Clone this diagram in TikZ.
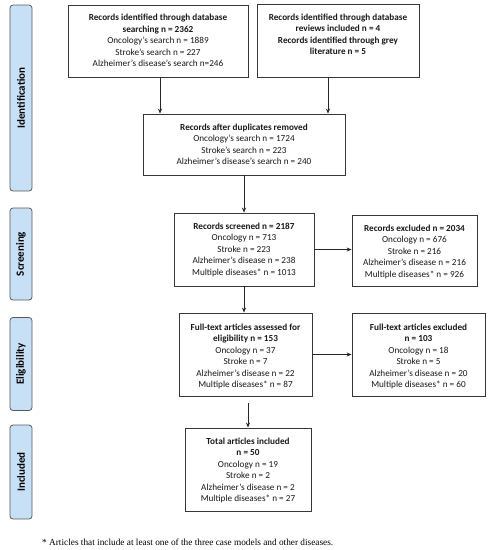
\documentclass[tikz,border=0pt]{standalone}
\usepackage{fontspec}
\setmainfont{Carlito}
\newfontfamily\footfont{Liberation Serif}
\usetikzlibrary{arrows.meta}
\definecolor{barfill}{RGB}{200,224,246}
\definecolor{barline}{RGB}{90,90,90}
\definecolor{boxline}{RGB}{55,55,55}
\begin{document}
\begin{tikzpicture}[x=1pt,y=-1pt,
  box/.style={draw=boxline, line width=0.8pt, inner sep=0pt},
  txt/.style={align=center, inner sep=0pt, anchor=north, text=black!90, font=\fontsize{9.2}{11.5}\selectfont},
  bar/.style={draw=barline, fill=barfill, line width=0.8pt, rounded corners=3pt, rotate=90, inner sep=0pt, minimum height=22pt, font=\fontsize{11}{12}\selectfont\bfseries},
  arr/.style={-{Stealth[length=5pt,width=4pt]}, line width=0.8pt, draw=black!85}]
\fill[white] (0,0) rectangle (490,550);
\useasboundingbox (0,0) rectangle (490,550);
% side bars
\node[bar, minimum width=186pt] (s1) at (21,98) {Identification};
\node[bar, minimum width=92pt] (s2) at (21,254) {Screening};
\node[bar, minimum width=93pt] (s3) at (21,364) {Eligibility};
\node[bar, minimum width=94pt] (s4) at (21,472) {Included};
% boxes
\node[box, minimum width=180pt, minimum height=72pt] (b1) at (158,41) {};
\node[box, minimum width=162pt, minimum height=73pt] (b2) at (338,40.5) {};
\node[box, minimum width=202pt, minimum height=61pt] (b3) at (244,144.5) {};
\node[box, minimum width=140pt, minimum height=73pt] (b4) at (244,249.5) {};
\node[box, minimum width=125pt, minimum height=71pt] (b5) at (414.5,250.5) {};
\node[box, minimum width=133pt, minimum height=83pt] (b6) at (245.5,354.5) {};
\node[box, minimum width=133pt, minimum height=83pt] (b7) at (418.5,354.5) {};
\node[box, minimum width=126pt, minimum height=83pt] (b8) at (248,469.5) {};
% texts
\node[txt] (t1) at ([yshift=-9.5pt]b1.north) {\textbf{Records identified through database}\\\textbf{searching n = 2362}\\Oncology’s search n = 1889\\Stroke’s search n = 227\\Alzheimer’s disease’s search n=246};
\node[txt] (t2) at ([yshift=-10pt]b2.north) {\textbf{Records identified through database}\\\textbf{reviews included n = 4}\\\textbf{Records identified through grey}\\\textbf{literature n = 5}};
\node[txt] (t3) at ([yshift=-10pt]b3.north) {\textbf{Records after duplicates removed}\\Oncology’s search n = 1724\\Stroke’s search n = 223\\Alzheimer’s disease’s search n = 240};
\node[txt] (t4) at ([yshift=-10pt]b4.north) {\textbf{Records screened n = 2187}\\Oncology n = 713\\Stroke n = 223\\Alzheimer’s disease n = 238\\Multiple diseases* n = 1013};
\node[txt] (t5) at ([yshift=-10pt]b5.north) {\textbf{Records excluded n = 2034}\\Oncology n = 676\\Stroke n = 216\\Alzheimer’s disease n = 216\\Multiple diseases* n = 926};
\node[txt] (t6) at ([yshift=-11pt]b6.north) {\textbf{Full-text articles assessed for}\\\textbf{eligibility n = 153}\\Oncology n = 37\\Stroke n = 7\\Alzheimer’s disease n = 22\\Multiple diseases* n = 87};
\node[txt] (t7) at ([yshift=-11pt]b7.north) {\textbf{Full-text articles excluded}\\\textbf{n = 103}\\Oncology n = 18\\Stroke n = 5\\Alzheimer’s disease n = 20\\Multiple diseases* n = 60};
\node[txt] (t8) at ([yshift=-10pt]b8.north) {\textbf{Total articles included}\\\textbf{n = 50}\\Oncology n = 19\\Stroke n = 2\\Alzheimer’s disease n = 2\\Multiple diseases* n = 27};
% footnote
\node[anchor=west, inner sep=0pt, font=\footfont\fontsize{9.3}{10}\selectfont] (fn) at (42,542) {* Articles that include at least one of the three case models and other diseases.};
% arrows
\draw[arr] ([xshift=2pt]b1.south) -- ([xshift=2pt]b1.south |- b3.north);
\draw[arr] ([xshift=-10pt]b2.south) -- ([xshift=-10pt]b2.south |- b3.north);
\draw[arr] (b3.south) -- (b3.south |- b4.north);
\draw[arr] (b4.east) -- (b4.east -| b5.west);
\draw[arr] (b4.south) -- (b4.south |- b6.north);
\draw[arr] (b6.east) -- (b6.east -| b7.west);
\draw[arr, shorten <=7pt] (b8.north |- b6.south) -- (b8.north);
\end{tikzpicture}
\end{document}
